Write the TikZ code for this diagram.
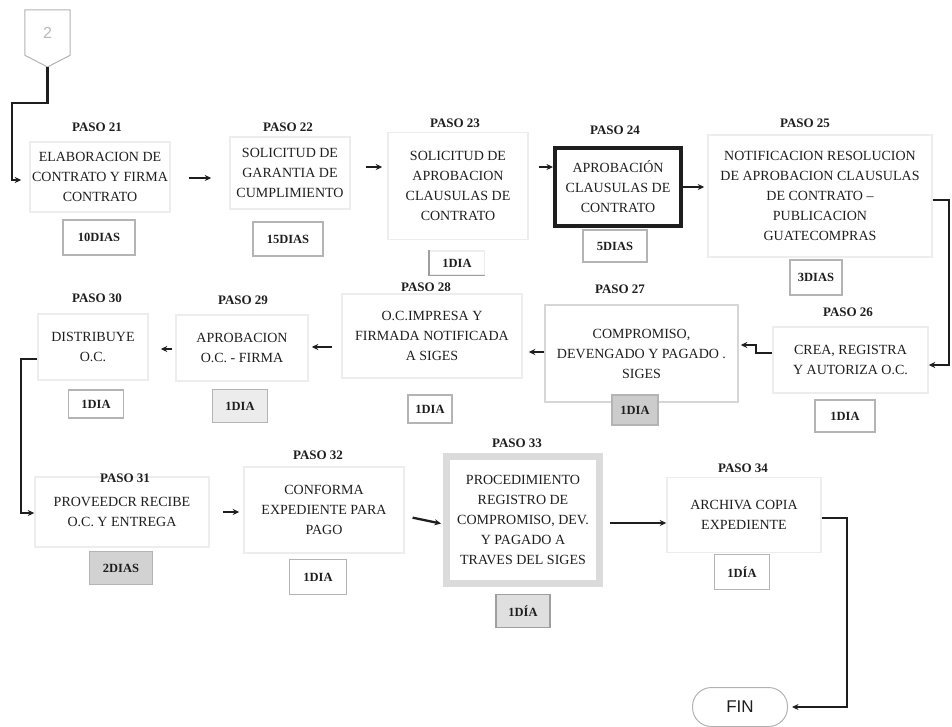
\documentclass[tikz,border=0pt]{standalone}
\usepackage{fontspec}
\setmainfont{Liberation Serif}
\setsansfont{Liberation Sans}
\usetikzlibrary{arrows.meta}
\definecolor{ink}{HTML}{1E1E1E}
\definecolor{faint}{HTML}{EDEDED}
\definecolor{faintdark}{HTML}{D6D6D6}
\definecolor{dayline}{HTML}{B4B4B4}
\begin{document}
\begin{tikzpicture}[x=1pt,y=-1pt,
  wh/.style 2 args={minimum width=#1pt, minimum height=#2pt},
  stepbox/.style={draw=faint, line width=1.5pt, align=center, text=ink, inner sep=0pt, font=\fontsize{14}{20}\selectfont},
  pasolbl/.style={text=ink, inner sep=0pt, font=\bfseries\fontsize{13}{14}\selectfont},
  daybox/.style={draw=dayline, line width=1.3pt, text=ink, inner sep=0pt, font=\bfseries\fontsize{12.5}{14}\selectfont},
  flow/.style={draw=ink, line width=2.3pt, -{Stealth[length=6.5pt,width=6pt]}},
]
\useasboundingbox (0,0) rectangle (952,726);

% off-page connector
\node[text=gray!55, font=\sffamily\fontsize{16}{16}\selectfont, wh={45}{45}, inner sep=0pt] (c2) at (47.5,32.5) {2};
\coordinate (c2tip) at (47.5,67);
\draw[gray!60, line width=1pt] (c2.north west) -- (c2.north east) -- (c2.south east) -- (c2tip) -- (c2.south west) -- cycle;

% first row: steps 21-25
\node[stepbox, wh={140}{70}] (s21) at (100,177) {ELABORACION DE\\CONTRATO Y FIRMA\\CONTRATO};
\node[stepbox, wh={120}{72}] (s22) at (290,173) {SOLICITUD DE\\GARANTIA DE\\CUMPLIMIENTO};
\node[stepbox, wh={140}{107}] (s23) at (458,186) {SOLICITUD DE\\APROBACION\\CLAUSULAS DE\\CONTRATO};
\node[stepbox, draw=ink, line width=4pt, wh={126}{78}] (s24) at (618,187) {APROBACIÓN\\CLAUSULAS DE\\CONTRATO};
\node[stepbox, wh={224}{122}] (s25) at (820,196) {NOTIFICACION RESOLUCION\\DE APROBACION CLAUSULAS\\DE CONTRATO –\\PUBLICACION\\GUATECOMPRAS};

% second row: steps 26-30
\node[stepbox, wh={155}{66}] (s26) at (850.5,360) {CREA, REGISTRA\\Y AUTORIZA O.C.};
\node[stepbox, draw=faintdark, wh={193}{97}] (s27) at (641.5,353.5) {COMPROMISO,\\DEVENGADO Y PAGADO .\\SIGES};
\node[stepbox, wh={180}{84}] (s28) at (432,336) {O.C.IMPRESA Y\\FIRMADA NOTIFICADA\\A SIGES};
\node[stepbox, wh={132}{66}] (s29) at (242,348) {APROBACION\\O.C. - FIRMA};
\node[stepbox, wh={110}{66}] (s30) at (93,347) {DISTRIBUYE\\O.C.};

% third row: steps 31-34 and end
\node[stepbox, wh={174}{70}] (s31) at (122,512) {PROVEEDCR RECIBE\\O.C. Y ENTREGA};
\node[stepbox, wh={160}{86}] (s32) at (324,510) {CONFORMA\\EXPEDIENTE PARA\\PAGO};
\node[stepbox, draw=gray!28, line width=7pt, wh={153}{127}] (s33) at (523,520) {PROCEDIMIENTO\\REGISTRO DE\\COMPROMISO, DEV.\\Y PAGADO A\\TRAVES DEL SIGES};
\node[stepbox, wh={154}{75}] (s34) at (744,515) {ARCHIVA COPIA\\EXPEDIENTE};
\node[draw=gray!60, line width=1pt, rounded corners=19pt, wh={95}{39}, text=ink, font=\sffamily\fontsize{17}{17}\selectfont] (fin) at (740,707) {FIN};

% step labels
\node[pasolbl] (p21) at (97,127) {PASO 21};
\node[pasolbl] (p22) at (288,127) {PASO 22};
\node[pasolbl] (p23) at (455,123) {PASO 23};
\node[pasolbl] (p24) at (615,130) {PASO 24};
\node[pasolbl] (p25) at (805,123) {PASO 25};
\node[pasolbl] (p26) at (848,312) {PASO 26};
\node[pasolbl] (p27) at (620,289) {PASO 27};
\node[pasolbl] (p28) at (426,287) {PASO 28};
\node[pasolbl] (p29) at (243,300) {PASO 29};
\node[pasolbl] (p30) at (97,298) {PASO 30};
\node[pasolbl] (p31) at (125,478) {PASO 31};
\node[pasolbl] (p32) at (318,455) {PASO 32};
\node[pasolbl] (p33) at (517,443) {PASO 33};
\node[pasolbl] (p34) at (743,468) {PASO 34};

% durations
\node[daybox, wh={72}{35}] (d21) at (99,237.5) {10DIAS};
\node[daybox, wh={70}{34}] (d22) at (288,239) {15DIAS};
\node[daybox, draw=faint, wh={55}{24}] (d23) at (457,263) {1DIA};
\draw[gray!75, line width=1.3pt] (d23.north west) -- (d23.south west) -- (d23.south east);
\node[daybox, wh={64}{32}] (d24) at (615,246) {5DIAS};
\node[daybox, wh={52}{35}] (d25) at (816,277.5) {3DIAS};
\node[daybox, wh={60}{32}] (d26) at (845,416) {1DIA};
\node[daybox, fill=gray!40, wh={46}{30}] (d27) at (635,410) {1DIA};
\node[daybox, wh={44}{28}] (d28) at (430,409) {1DIA};
\node[daybox, fill=gray!15, wh={55}{33}] (d29) at (240,406) {1DIA};
\node[daybox, wh={55}{28}] (d30) at (96,404) {1DIA};
\node[daybox, fill=gray!35, wh={63}{33}] (d31) at (121,568) {2DIAS};
\node[daybox, wh={57}{35}] (d32) at (318,577) {1DIA};
\node[daybox, draw=gray!75, fill=gray!25, wh={54}{33}] (d33) at (523,611) {1DÍA};
\node[daybox, wh={55}{35}] (d34) at (742,572) {1DÍA};

% connector heights
\coordinate (j1) at (12,103);
\coordinate (h0) at (0,180);
\coordinate (h1) at (0,178);
\coordinate (h2) at (0,167);
\coordinate (h4) at (0,187);
\coordinate (h5) at (0,200);
\coordinate (h6) at (0,365);
\coordinate (h7) at (0,353);
\coordinate (h8) at (0,345);
\coordinate (h9) at (0,352);
\coordinate (h10) at (0,347);
\coordinate (h11) at (0,349);
\coordinate (h12) at (0,359);
\coordinate (h13) at (0,513);
\coordinate (h14) at (0,512);
\coordinate (h15) at (0,516);
\coordinate (h16) at (0,524);
\coordinate (h17) at (0,523);
\coordinate (h18) at (0,518);

% flow connectors
\draw[flow, shorten >=8pt] (c2tip) |- (j1) |- (s21.west |- h0);
\draw[flow, shorten <=18pt, shorten >=18pt] (s21.east |- h1) -- (s22.west |- h1);
\draw[flow, shorten <=15pt, shorten >=5pt] (s22.east |- h2) -- (s23.west |- h2);
\draw[flow, shorten <=10pt] (s23.east |- h2) -- (s24.west |- h2);
\draw[flow, shorten >=3pt] (s24.east |- h4) -- (s25.west |- h4);
\draw[flow] (s25.east |- h5) -- ++(16,0) |- (s26.east |- h6);
\draw[flow, shorten >=2pt] (s26.west |- h7) -- ++(-16,0) |- (s27.east |- h8);
\draw[flow, shorten >=6pt] (s27.west |- h9) -- (s28.east |- h9);
\draw[flow, shorten <=9pt, shorten >=3pt] (s28.west |- h10) -- (s29.east |- h10);
\draw[flow, shorten <=3pt, shorten >=12pt] (s29.west |- h11) -- (s30.east |- h11);
\draw[flow] (s30.west |- h12) -- ++(-16,0) |- (s31.west |- h13);
\draw[flow, shorten <=13pt, shorten >=4pt] (s31.east |- h14) -- (s32.west |- h14);
\draw[flow, shorten <=8pt, shorten >=2pt] (s32.east |- h15) -- (s33.west |- h16);
\draw[flow, shorten <=7pt] (s33.east |- h17) -- (s34.west |- h17);
\draw[flow, shorten >=4pt] (s34.east |- h18) -- ++(25,0) |- (fin.east);
\end{tikzpicture}
\end{document}
